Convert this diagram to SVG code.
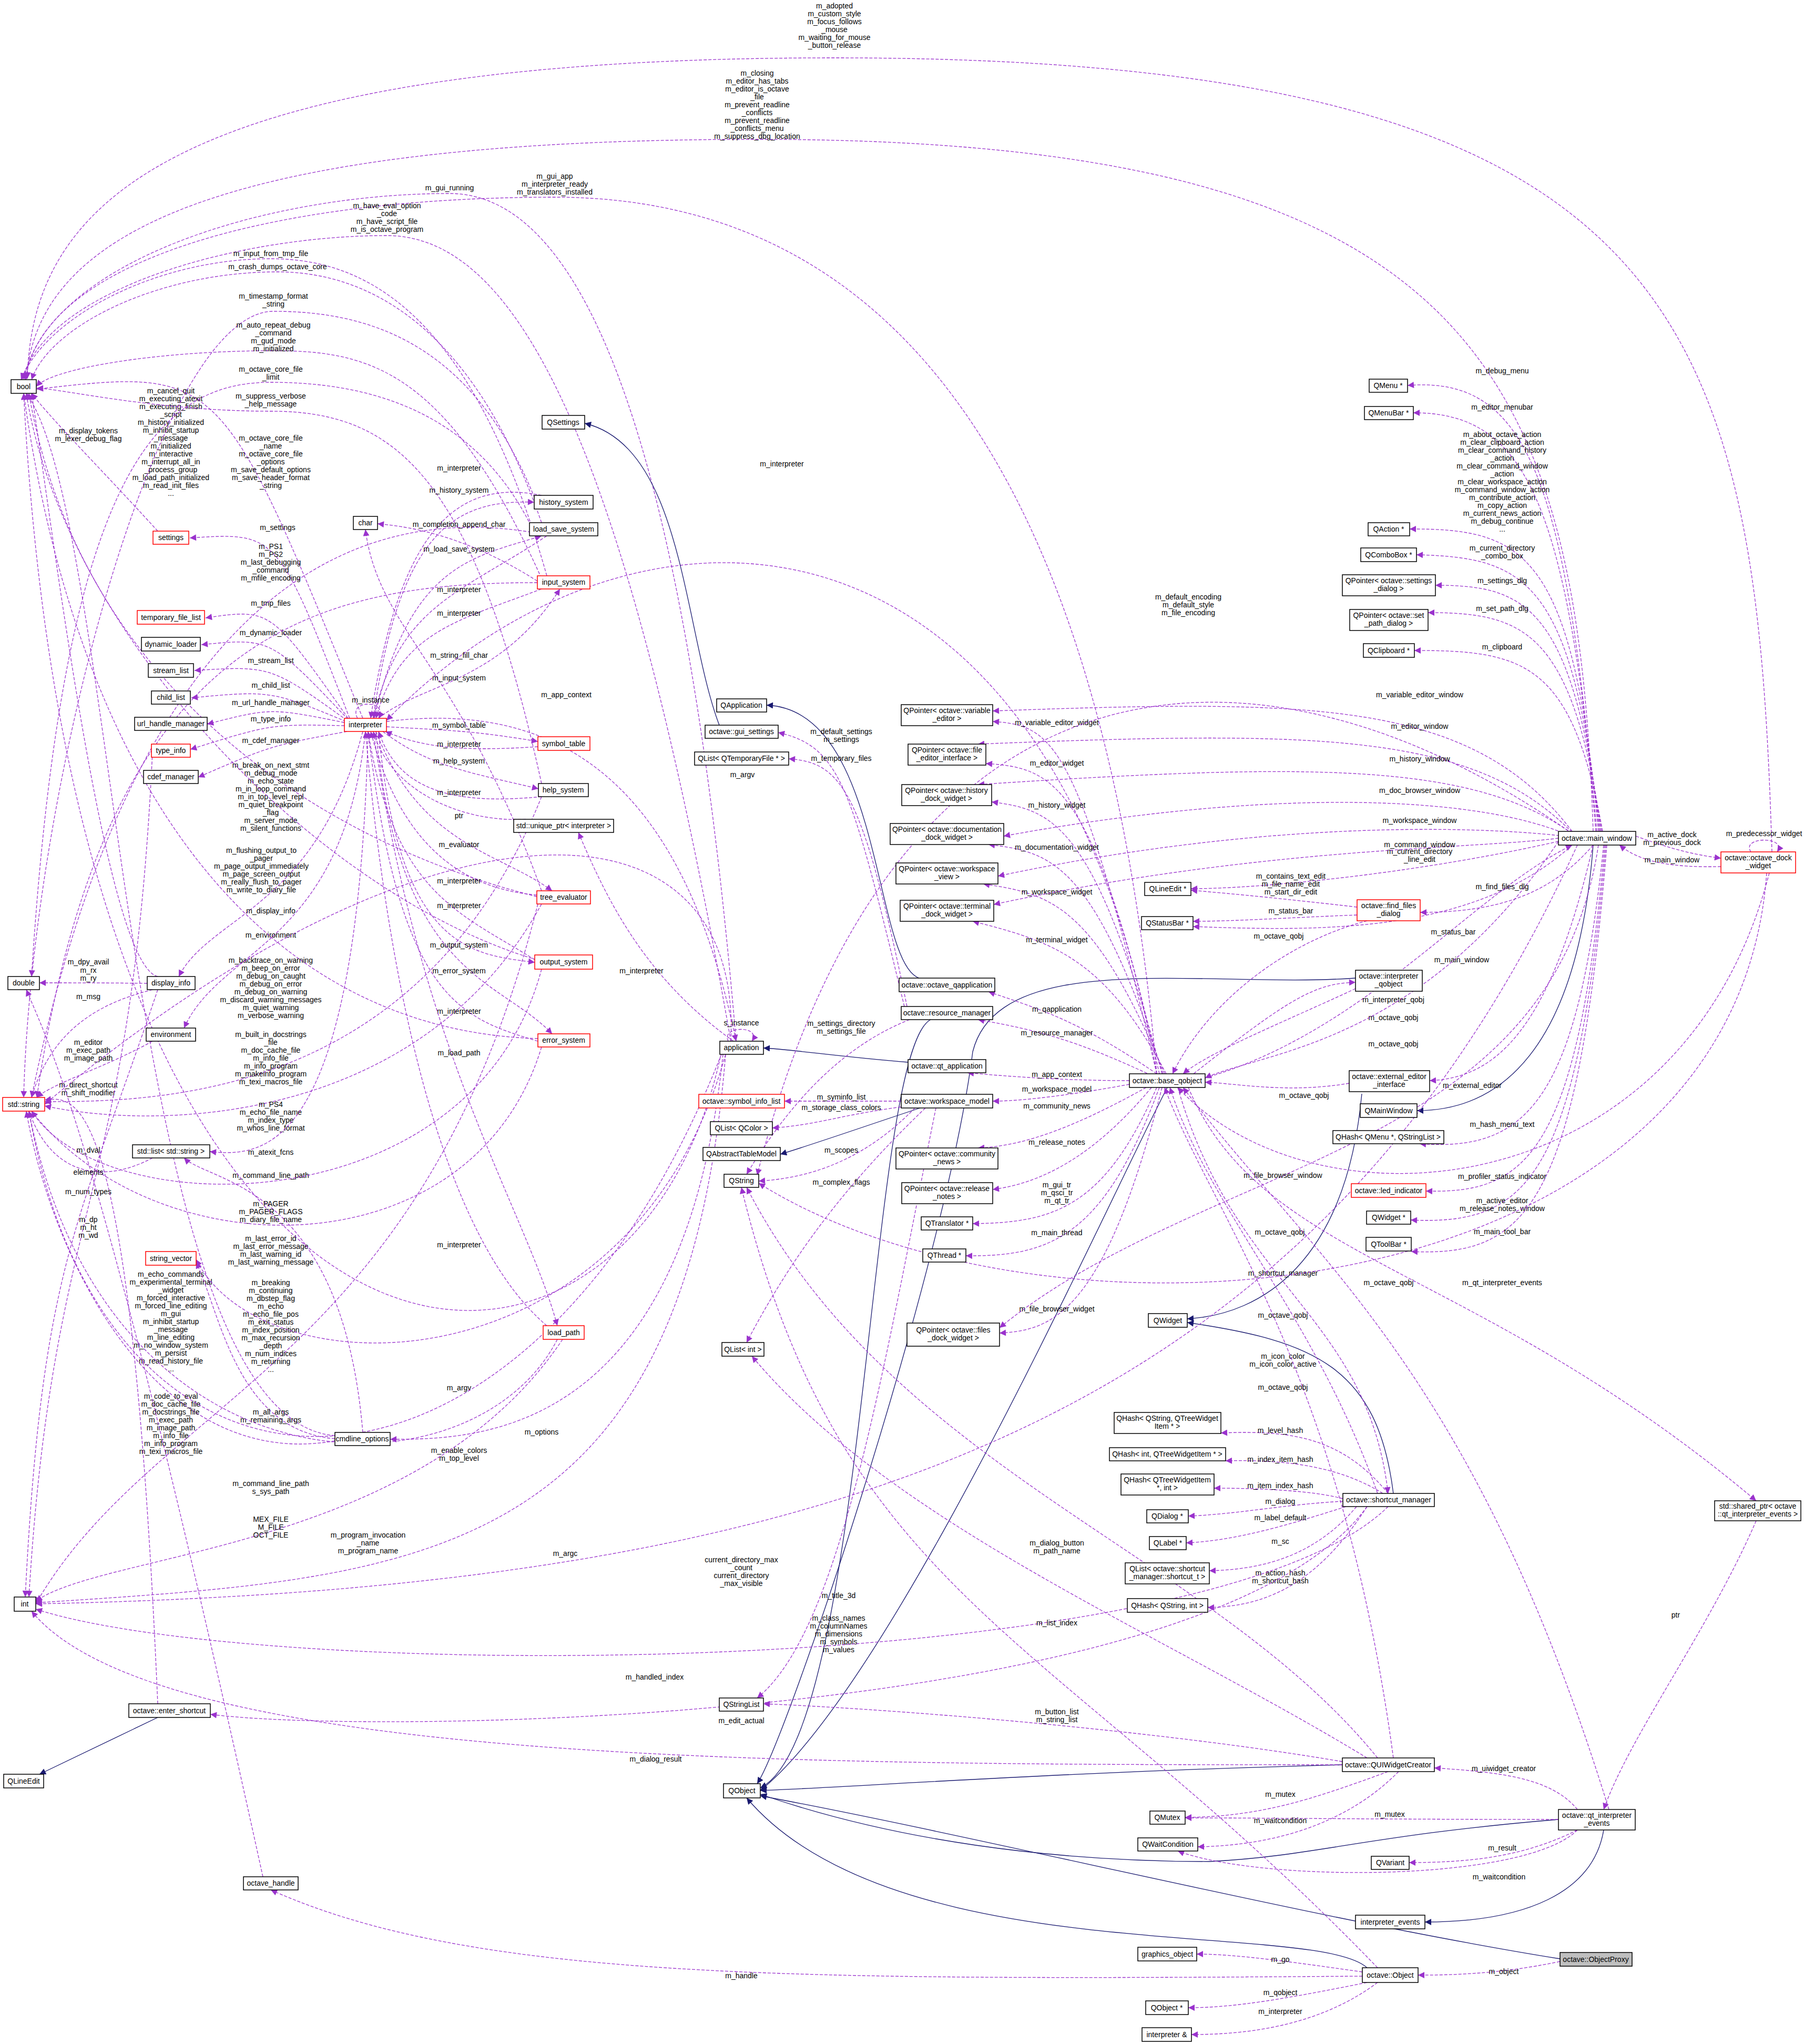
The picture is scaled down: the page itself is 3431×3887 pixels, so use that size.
<svg xmlns="http://www.w3.org/2000/svg" width="3431" height="3887" viewBox="0 0 3431 3887">
<style>
text{font-family:"Liberation Sans",Arial,sans-serif;font-size:14px;fill:#000}
.n rect{fill:#fff;stroke:#000;stroke-width:1.5}
.n.r rect{stroke:#f00}
.n.g rect{fill:#bfbfbf}
.n text{text-anchor:middle}
.e path{fill:none;stroke:#9a32cd;stroke-width:1.3;stroke-dasharray:6,3;marker-end:url(#ap)}
.e path.i{stroke:#191970;stroke-dasharray:none;marker-end:url(#ab)}
.e text{text-anchor:middle}
</style>
<defs>
<marker id="ap" viewBox="0 0 10 10" refX="10" refY="5" markerWidth="14" markerHeight="12" markerUnits="userSpaceOnUse" orient="auto"><path d="M0,0L10,5L0,10z" fill="#9a32cd"/></marker>
<marker id="ab" viewBox="0 0 10 10" refX="10" refY="5" markerWidth="14" markerHeight="12" markerUnits="userSpaceOnUse" orient="auto"><path d="M0,0L10,5L0,10z" fill="#191970"/></marker>
</defs>
<rect width="3431" height="3887" fill="#fff"/>
<g id="edges" class="e">
<path d="M665,1366C528,1012 528,1012 361,1023"/><text x="528" y="1008">m_settings</text>
<path d="M662,1366C515,1157 515,1157 391,1175"/><text x="515" y="1152">m_tmp_files</text>
<path d="M662,1368C515,1213 515,1213 383,1226"/><text x="515" y="1208">m_dynamic_loader</text>
<path d="M660,1370C515,1266 515,1266 370,1275"/><text x="515" y="1261">m_stream_list</text>
<path d="M658,1372C515,1313 515,1313 364,1327"/><text x="515" y="1308">m_child_list</text>
<path d="M655,1374C515,1346 515,1346 394,1377"/><text x="515" y="1341">m_url_handle_manager</text>
<path d="M655,1380C515,1377 515,1377 362,1425"/><text x="515" y="1372">m_type_info</text>
<path d="M660,1391C515,1418 515,1418 377,1478"/><text x="515" y="1413">m_cdef_manager</text>
<path d="M690,1366C420,700 420,700 70,740"/><text x="325" y="748">m_cancel_quit<tspan x="325" dy="15">m_executing_atexit</tspan><tspan x="325" dy="15">m_executing_finish</tspan><tspan x="325" dy="15">_script</tspan><tspan x="325" dy="15">m_history_initialized</tspan><tspan x="325" dy="15">m_inhibit_startup</tspan><tspan x="325" dy="15">_message</tspan><tspan x="325" dy="15">m_initialized</tspan><tspan x="325" dy="15">m_interactive</tspan><tspan x="325" dy="15">m_interrupt_all_in</tspan><tspan x="325" dy="15">_process_group</tspan><tspan x="325" dy="15">m_load_path_initialized</tspan><tspan x="325" dy="15">m_read_init_files</tspan><tspan x="325" dy="15">...</tspan></text>
<path d="M3370,1620C3340,600 3200,110 1587,110C300,110 60,400 52,720"/><text x="1587" y="16">m_adopted<tspan x="1587" dy="15">m_custom_style</tspan><tspan x="1587" dy="15">m_focus_follows</tspan><tspan x="1587" dy="15">_mouse</tspan><tspan x="1587" dy="15">m_waiting_for_mouse</tspan><tspan x="1587" dy="15">_button_release</tspan></text>
<path d="M3030,1581C3000,700 2800,265 1440,265C400,265 70,450 50,722"/><text x="1440" y="144">m_closing<tspan x="1440" dy="15">m_editor_has_tabs</tspan><tspan x="1440" dy="15">m_editor_is_octave</tspan><tspan x="1440" dy="15">_file</tspan><tspan x="1440" dy="15">m_prevent_readline</tspan><tspan x="1440" dy="15">_conflicts</tspan><tspan x="1440" dy="15">m_prevent_readline</tspan><tspan x="1440" dy="15">_conflicts_menu</tspan><tspan x="1440" dy="15">m_suppress_dbg_location</tspan></text>
<path d="M2200,2042C2100,900 1700,375 1055,375C500,375 80,500 48,722"/><text x="1055" y="340">m_gui_app<tspan x="1055" dy="15">m_interpreter_ready</tspan><tspan x="1055" dy="15">m_translators_installed</tspan></text>
<path d="M1400,1980C1300,800 1100,368 855,368C500,368 90,500 45,722"/><text x="855" y="362">m_gui_running</text>
<path d="M1390,1980C1200,900 1000,448 736,448C450,448 90,550 42,722"/><text x="736" y="396">m_have_eval_option<tspan x="736" dy="15">_code</tspan><tspan x="736" dy="15">m_have_script_file</tspan><tspan x="736" dy="15">m_is_octave_program</tspan></text>
<path d="M1040,1095C900,600 700,492 515,492C300,492 90,600 40,722"/><text x="515" y="487">m_input_from_tmp_file</text>
<path d="M1030,994C900,620 700,517 528,517C300,517 95,620 60,722"/><text x="528" y="512">m_crash_dumps_octave_core</text>
<path d="M1020,955C900,650 700,592 520,592C300,592 60,1500 45,2087"/><text x="520" y="568">m_timestamp_format<tspan x="520" dy="15">_string</tspan></text>
<path d="M1030,1100C850,700 700,667 520,667C300,667 100,700 69,735"/><text x="520" y="623">m_auto_repeat_debug<tspan x="520" dy="15">_command</tspan><tspan x="520" dy="15">m_gud_mode</tspan><tspan x="520" dy="15">m_initialized</tspan></text>
<path d="M1010,1000C900,780 700,727 515,727C300,727 120,900 60,1857"/><text x="515" y="707">m_octave_core_file<tspan x="515" dy="15">_limit</tspan></text>
<path d="M1030,1490C900,900 750,782 515,782C300,782 120,740 70,738"/><text x="515" y="758">m_suppress_verbose<tspan x="515" dy="15">_help_message</tspan></text>
<path d="M1010,1012C500,930 200,1400 60,2087"/><text x="515" y="838">m_octave_core_file<tspan x="515" dy="15">_name</tspan><tspan x="515" dy="15">m_octave_core_file</tspan><tspan x="515" dy="15">_options</tspan><tspan x="515" dy="15">m_save_default_options</tspan><tspan x="515" dy="15">m_save_header_format</tspan><tspan x="515" dy="15">_string</tspan></text>
<path d="M1022,1108C600,1108 200,1200 70,2087"/><text x="515" y="1044">m_PS1<tspan x="515" dy="15">m_PS2</tspan><tspan x="515" dy="15">m_last_debugging</tspan><tspan x="515" dy="15">_command</tspan><tspan x="515" dy="15">m_mfile_encoding</tspan></text>
<path d="M300,1010C200,900 100,800 60,748"/><text x="168" y="824">m_display_tokens<tspan x="168" dy="15">m_lexer_debug_flag</tspan></text>
<path d="M1021,1705C600,1600 150,1300 55,748"/><text x="515" y="1460">m_break_on_next_stmt<tspan x="515" dy="15">m_debug_mode</tspan><tspan x="515" dy="15">m_echo_state</tspan><tspan x="515" dy="15">m_in_loop_command</tspan><tspan x="515" dy="15">m_in_top_level_repl</tspan><tspan x="515" dy="15">m_quiet_breakpoint</tspan><tspan x="515" dy="15">_flag</tspan><tspan x="515" dy="15">m_server_mode</tspan><tspan x="515" dy="15">m_silent_functions</tspan></text>
<path d="M1020,1825C600,1700 120,1200 50,748"/><text x="497" y="1622">m_flushing_output_to<tspan x="497" dy="15">_pager</tspan><tspan x="497" dy="15">m_page_output_immediately</tspan><tspan x="497" dy="15">m_page_screen_output</tspan><tspan x="497" dy="15">m_really_flush_to_pager</tspan><tspan x="497" dy="15">m_write_to_diary_file</tspan></text>
<path d="M690,1391C600,1730 400,1740 340,1857"/><text x="515" y="1737">m_display_info</text>
<path d="M695,1391C650,1800 420,1800 350,1955"/><text x="515" y="1783">m_environment</text>
<path d="M1023,1975C500,1960 150,1500 45,748"/><text x="515" y="1831">m_backtrace_on_warning<tspan x="515" dy="15">m_beep_on_error</tspan><tspan x="515" dy="15">m_debug_on_caught</tspan><tspan x="515" dy="15">m_debug_on_error</tspan><tspan x="515" dy="15">m_debug_on_warning</tspan><tspan x="515" dy="15">m_discard_warning_messages</tspan><tspan x="515" dy="15">m_quiet_warning</tspan><tspan x="515" dy="15">m_verbose_warning</tspan></text>
<path d="M1030,1515C800,2090 300,2095 85,2095"/><text x="515" y="1972">m_built_in_docstrings<tspan x="515" dy="15">_file</tspan><tspan x="515" dy="15">m_doc_cache_file</tspan><tspan x="515" dy="15">m_info_file</tspan><tspan x="515" dy="15">m_info_program</tspan><tspan x="515" dy="15">m_makeinfo_program</tspan><tspan x="515" dy="15">m_texi_macros_file</tspan></text>
<path d="M1030,1719C800,2140 300,2150 85,2103"/><text x="515" y="2105">m_PS4<tspan x="515" dy="15">m_echo_file_name</tspan><tspan x="515" dy="15">m_index_type</tspan><tspan x="515" dy="15">m_whos_line_format</tspan></text>
<path d="M700,1391C680,2200 500,2200 399,2190"/><text x="515" y="2196">m_atexit_fcns</text>
<path d="M690,2724C650,2250 400,2250 350,2202"/><text x="515" y="2240">m_command_line_path</text>
<path d="M1030,1843C900,2330 200,2330 60,2113"/><text x="515" y="2294">m_PAGER<tspan x="515" dy="15">m_PAGER_FLAGS</tspan><tspan x="515" dy="15">m_diary_file_name</tspan></text>
<path d="M1030,1991C900,2420 300,2420 60,2113"/><text x="515" y="2360">m_last_error_id<tspan x="515" dy="15">m_last_error_message</tspan><tspan x="515" dy="15">m_last_warning_id</tspan><tspan x="515" dy="15">m_last_warning_message</tspan></text>
<path d="M1023,1719C800,2600 300,2650 68,3050"/><text x="515" y="2444">m_breaking<tspan x="515" dy="15">m_continuing</tspan><tspan x="515" dy="15">m_dbstep_flag</tspan><tspan x="515" dy="15">m_echo</tspan><tspan x="515" dy="15">m_echo_file_pos</tspan><tspan x="515" dy="15">m_exit_status</tspan><tspan x="515" dy="15">m_index_position</tspan><tspan x="515" dy="15">m_max_recursion</tspan><tspan x="515" dy="15">_depth</tspan><tspan x="515" dy="15">m_num_indices</tspan><tspan x="515" dy="15">m_returning</tspan><tspan x="515" dy="15">...</tspan></text>
<path d="M637,2730C230,2700 230,1000 50,748"/><text x="325" y="2428">m_echo_commands<tspan x="325" dy="15">m_experimental_terminal</tspan><tspan x="325" dy="15">_widget</tspan><tspan x="325" dy="15">m_forced_interactive</tspan><tspan x="325" dy="15">m_forced_line_editing</tspan><tspan x="325" dy="15">m_gui</tspan><tspan x="325" dy="15">m_inhibit_startup</tspan><tspan x="325" dy="15">_message</tspan><tspan x="325" dy="15">m_line_editing</tspan><tspan x="325" dy="15">m_no_window_system</tspan><tspan x="325" dy="15">m_persist</tspan><tspan x="325" dy="15">m_read_history_file</tspan><tspan x="325" dy="15">...</tspan></text>
<path d="M637,2740C300,2800 100,2400 50,2113"/><text x="325" y="2660">m_code_to_eval<tspan x="325" dy="15">m_doc_cache_file</tspan><tspan x="325" dy="15">m_docstrings_file</tspan><tspan x="325" dy="15">m_exec_path</tspan><tspan x="325" dy="15">m_image_path</tspan><tspan x="325" dy="15">m_info_file</tspan><tspan x="325" dy="15">m_info_program</tspan><tspan x="325" dy="15">m_texi_macros_file</tspan></text>
<path d="M637,2736C450,2720 420,2500 373,2400"/><text x="515" y="2690">m_all_args<tspan x="515" dy="15">m_remaining_args</tspan></text>
<path d="M1380,2005C1200,2650 500,2650 373,2395"/><text x="873" y="2644">m_argv</text>
<path d="M1375,2005C1300,2740 900,2737 742,2737"/><text x="1030" y="2728">m_options</text>
<path d="M1370,2010C1200,2790 150,2790 45,748"/><text x="873" y="2763">m_enable_colors<tspan x="873" dy="15">m_top_level</tspan></text>
<path d="M1060,2547C900,2860 200,2860 55,2113"/><text x="515" y="2826">m_command_line_path<tspan x="515" dy="15">s_sys_path</tspan></text>
<path d="M1070,2547C800,2950 200,2950 68,3045"/><text x="515" y="2894">MEX_FILE<tspan x="515" dy="15">M_FILE</tspan><tspan x="515" dy="15">OCT_FILE</tspan></text>
<path d="M1372,2005C1000,2950 200,2960 55,2113"/><text x="700" y="2924">m_program_invocation<tspan x="700" dy="15">_name</tspan><tspan x="700" dy="15">m_program_name</tspan></text>
<path d="M1380,2005C1300,2980 800,3000 68,3048"/><text x="1075" y="2959">m_argc</text>
<path d="M280,1870C200,1869 150,1869 75,1869"/><text x="168" y="1850">m_rx<tspan x="168" dy="15">m_ry</tspan></text>
<path d="M290,1882C200,1905 100,1950 60,2087"/><text x="168" y="1900">m_msg</text>
<path d="M300,1857C200,1834 100,1000 60,748"/><text x="168" y="1834">m_dpy_avail</text>
<path d="M290,1980C200,2030 100,2060 70,2087"/><text x="168" y="1987">m_editor<tspan x="168" dy="15">m_exec_path</tspan><tspan x="168" dy="15">m_image_path</tspan></text>
<path d="M300,3240C250,2080 150,2082 85,2092"/><text x="168" y="2068">m_direct_shortcut<tspan x="168" dy="15">m_shift_modifier</tspan></text>
<path d="M500,3569C200,2200 100,2000 50,1882"/><text x="168" y="2192">m_dval</text>
<path d="M290,2202C200,2250 100,2240 55,2113"/><text x="168" y="2234">elements</text>
<path d="M290,1430C250,2280 100,2280 55,3037"/><text x="168" y="2271">m_num_types</text>
<path d="M300,1882C150,2330 80,2400 48,3037"/><text x="168" y="2324">m_dp<tspan x="168" dy="15">m_ht</tspan><tspan x="168" dy="15">m_wd</tspan></text>
<path d="M1030,942C873,910 760,1000 705,1366"/><text x="873" y="895">m_interpreter</text>
<path d="M710,1366C760,1000 873,950 1016,955"/><text x="873" y="937">m_history_system</text>
<path d="M1022,1105C873,1010 760,1000 718,996"/><text x="873" y="1002">m_completion_append_char</text>
<path d="M712,1366C780,1070 900,1060 1030,1019"/><text x="873" y="1049">m_load_save_system</text>
<path d="M1040,1019C873,1130 760,1150 710,1366"/><text x="873" y="1126">m_interpreter</text>
<path d="M1030,1120C873,1180 760,1200 715,1366"/><text x="873" y="1171">m_interpreter</text>
<path d="M1030,1694C873,1260 720,1200 695,1007"/><text x="873" y="1251">m_string_fill_char</text>
<path d="M720,1366C800,1300 950,1300 1065,1120"/><text x="873" y="1294">m_input_system</text>
<path d="M735,1382C873,1390 900,1390 1023,1410"/><text x="873" y="1384">m_symbol_table</text>
<path d="M1023,1420C873,1430 800,1420 733,1391"/><text x="873" y="1420">m_interpreter</text>
<path d="M728,1391C820,1460 900,1470 1024,1500"/><text x="873" y="1452">m_help_system</text>
<path d="M1030,1515C873,1530 760,1510 720,1391"/><text x="873" y="1512">m_interpreter</text>
<path d="M1000,1558C873,1565 740,1500 710,1391"/><text x="873" y="1556">ptr</text>
<path d="M715,1391C800,1610 950,1620 1050,1694"/><text x="873" y="1611">m_evaluator</text>
<path d="M1021,1702C873,1690 760,1600 705,1391"/><text x="873" y="1680">m_interpreter</text>
<path d="M1017,1825C873,1735 750,1700 700,1391"/><text x="873" y="1727">m_interpreter</text>
<path d="M720,1391C760,1810 900,1815 1017,1830"/><text x="873" y="1802">m_output_system</text>
<path d="M715,1391C760,1860 950,1860 1050,1966"/><text x="873" y="1851">m_error_system</text>
<path d="M1023,1980C873,1935 760,1900 700,1391"/><text x="873" y="1928">m_interpreter</text>
<path d="M710,1391C800,2010 1000,2300 1060,2521"/><text x="873" y="2007">m_load_path</text>
<path d="M1040,2521C873,2380 750,2000 695,1391"/><text x="873" y="2372">m_interpreter</text>
<path d="M680,1366C660,1330 740,1330 720,1366"/><text x="705" y="1336">m_instance</text>
<path d="M735,1372C1077,1330 1300,1500 1400,1980"/><text x="1077" y="1326">m_app_context</text>
<path d="M1395,1980C1220,1855 1150,1700 1100,1583"/><text x="1220" y="1851">m_interpreter</text>
<path d="M2200,2042C2000,900 1200,890 735,1370"/><text x="1487" y="887">m_interpreter</text>
<path d="M1390,1980C1412,1480 800,1500 85,2100"/><text x="1412" y="1478">m_argv</text>
<path d="M1385,1980C1370,1950 1450,1950 1430,1980"/><text x="1410" y="1950">s_instance</text>
<path class="i" d="M1368,1379C1300,1200 1300,850 1112,805"/>
<path class="i" d="M1748,1860C1660,1830 1680,1350 1458,1341"/>
<path class="i" d="M1727,2020C1600,2010 1500,1995 1452,1993"/>
<path class="i" d="M1770,1939C1650,2000 1650,3300 1446,3400"/>
<path class="i" d="M1750,2107C1650,2140 1550,2175 1484,2195"/>
<path class="i" d="M2220,2068C2100,2300 1700,3200 1446,3405"/>
<path class="i" d="M3030,1607C3000,2000 2850,2112 2695,2112"/>
<path class="i" d="M2578,1860C2300,1880 1900,1800 1850,2000C1800,2400 1500,3300 1440,3392"/>
<path class="i" d="M2590,2080C2560,2400 2400,2500 2258,2508"/>
<path class="i" d="M2650,2840C2620,2600 2500,2550 2258,2515"/>
<path class="i" d="M2553,3356C2000,3370 1600,3400 1446,3405"/>
<path class="i" d="M2964,3460C2600,3490 2500,3530 2300,3540C2000,3540 1700,3500 1446,3412"/>
<path class="i" d="M3050,3480C3030,3600 2900,3655 2710,3655"/>
<path class="i" d="M2967,3725C2500,3650 1900,3500 1446,3415"/>
<path class="i" d="M2600,3742C2500,3650 1700,3750 1420,3419"/>
<path class="i" d="M300,3266L75,3374"/>
<path d="M1720,1914C1620,1500 1600,1420 1480,1393"/><text x="1600" y="1396">m_default_settings<tspan x="1600" dy="15">m_settings</tspan></text>
<path d="M1725,1914C1640,1500 1600,1450 1500,1443"/><text x="1600" y="1447">m_temporary_files</text>
<path d="M1730,1939C1600,1990 1500,2100 1420,2233"/><text x="1600" y="1951">m_settings_directory<tspan x="1600" dy="15">m_settings_file</tspan></text>
<path d="M1714,2094C1600,2094 1550,2094 1492,2094"/><text x="1600" y="2091">m_syminfo_list</text>
<path d="M1714,2105C1600,2120 1550,2140 1469,2145"/><text x="1600" y="2111">m_storage_class_colors</text>
<path d="M1740,2107C1650,2200 1550,2240 1443,2246"/><text x="1600" y="2192">m_scopes</text>
<path d="M1760,2107C1600,2260 1500,2400 1420,2553"/><text x="1600" y="2253">m_complex_flags</text>
<path d="M1780,2107C1680,2600 1600,3100 1440,3229"/><text x="1595" y="3082">m_class_names<tspan x="1595" dy="15">m_columnNames</tspan><tspan x="1595" dy="15">m_dimensions</tspan><tspan x="1595" dy="15">m_symbols</tspan><tspan x="1595" dy="15">m_values</tspan></text>
<path d="M2620,3742C2000,3100 1600,3040 1410,2258"/><text x="1595" y="3039">m_title_3d</text>
<path d="M2200,2042C2050,1400 2000,1380 1888,1372"/><text x="2010" y="1379">m_variable_editor_widget</text>
<path d="M2205,2042C2080,1480 2000,1460 1875,1452"/><text x="2010" y="1456">m_editor_widget</text>
<path d="M2210,2042C2080,1560 2000,1540 1886,1525"/><text x="2010" y="1536">m_history_widget</text>
<path d="M2212,2042C2080,1640 2000,1620 1880,1606"/><text x="2010" y="1616">m_documentation_widget</text>
<path d="M2215,2042C2080,1720 2000,1700 1870,1681"/><text x="2010" y="1701">m_workspace_widget</text>
<path d="M2218,2042C2100,1820 2000,1790 1850,1752"/><text x="2010" y="1792">m_terminal_widget</text>
<path d="M2200,2042C2050,1940 1980,1920 1880,1886"/><text x="2010" y="1924">m_qapplication</text>
<path d="M2190,2045C2050,1980 1980,1960 1860,1939"/><text x="2010" y="1969">m_resource_manager</text>
<path d="M2148,2055C2050,2055 1950,2050 1840,2040"/><text x="2010" y="2048">m_app_context</text>
<path d="M2148,2062C2050,2080 1950,2094 1888,2094"/><text x="2010" y="2076">m_workspace_model</text>
<path d="M2180,2068C2050,2140 1950,2180 1860,2183"/><text x="2010" y="2108">m_community_news</text>
<path d="M2190,2068C2080,2200 1980,2250 1888,2262"/><text x="2010" y="2177">m_release_notes</text>
<path d="M2200,2068C2100,2300 2000,2325 1850,2327"/><text x="2010" y="2258">m_gui_tr<tspan x="2010" dy="15">m_qsci_tr</tspan><tspan x="2010" dy="15">m_qt_tr</tspan></text>
<path d="M2205,2068C2100,2350 2000,2390 1837,2388"/><text x="2010" y="2349">m_main_thread</text>
<path d="M2210,2068C2100,2500 2000,2530 1901,2535"/><text x="2010" y="2494">m_file_browser_widget</text>
<path d="M2292,2050C2600,1960 2800,1700 2990,1607"/><text x="2780" y="1830">m_main_window</text>
<path d="M2270,2042C2450,1900 2500,1870 2578,1868"/><text x="2650" y="1906">m_interpreter_qobj</text>
<path d="M2578,1880C2450,1940 2300,2000 2250,2042"/><text x="2650" y="1940">m_octave_qobj</text>
<path d="M2964,1600C2700,1990 2400,2000 2292,2050"/><text x="2650" y="1990">m_octave_qobj</text>
<path d="M2566,2060C2450,2080 2350,2060 2292,2058"/><text x="2480" y="2088">m_octave_qobj</text>
<path d="M2600,1751C2450,1790 2300,1900 2230,2042"/><text x="2432" y="1785">m_octave_qobj</text>
<path d="M2964,1600C2700,1660 2400,1690 2265,1690"/><text x="2700" y="1624">m_current_directory<tspan x="2700" dy="15">_line_edit</tspan></text>
<path d="M2581,1725C2450,1710 2350,1700 2265,1693"/><text x="2455" y="1671">m_contains_text_edit<tspan x="2455" dy="15">m_file_name_edit</tspan><tspan x="2455" dy="15">m_start_dir_edit</tspan></text>
<path d="M2581,1740C2450,1745 2350,1752 2269,1752"/><text x="2455" y="1737">m_status_bar</text>
<path d="M2990,1607C2800,1780 2500,1770 2269,1762"/><text x="2764" y="1777">m_status_bar</text>
<path d="M3030,1607C2950,1700 2850,1735 2701,1735"/><text x="2857" y="1691">m_find_files_dlg</text>
<path d="M3035,1581C2980,900 2900,715 2677,733"/><text x="2857" y="710">m_debug_menu</text>
<path d="M3037,1581C2980,950 2900,785 2688,785"/><text x="2857" y="779">m_editor_menubar</text>
<path d="M3040,1581C2990,1050 2900,1005 2681,1006"/><text x="2857" y="831">m_about_octave_action<tspan x="2857" dy="15">m_clear_clipboard_action</tspan><tspan x="2857" dy="15">m_clear_command_history</tspan><tspan x="2857" dy="15">_action</tspan><tspan x="2857" dy="15">m_clear_command_window</tspan><tspan x="2857" dy="15">_action</tspan><tspan x="2857" dy="15">m_clear_workspace_action</tspan><tspan x="2857" dy="15">m_command_window_action</tspan><tspan x="2857" dy="15">m_contribute_action</tspan><tspan x="2857" dy="15">m_copy_action</tspan><tspan x="2857" dy="15">m_current_news_action</tspan><tspan x="2857" dy="15">m_debug_continue</tspan><tspan x="2857" dy="15">...</tspan></text>
<path d="M3042,1581C2990,1100 2900,1060 2694,1055"/><text x="2857" y="1047">m_current_directory<tspan x="2857" dy="15">_combo_box</tspan></text>
<path d="M3044,1581C2990,1150 2900,1113 2730,1113"/><text x="2857" y="1109">m_settings_dlg</text>
<path d="M3046,1581C2990,1200 2900,1165 2716,1165"/><text x="2857" y="1162">m_set_path_dlg</text>
<path d="M3048,1581C2990,1260 2900,1237 2690,1237"/><text x="2857" y="1235">m_clipboard</text>
<path d="M2990,1585C2400,1170 1700,1200 1440,2235"/><text x="2260" y="1140">m_default_encoding<tspan x="2260" dy="15">m_default_style</tspan><tspan x="2260" dy="15">m_file_encoding</tspan></text>
<path d="M2990,1581C2800,1330 2500,1330 1888,1352"/><text x="2700" y="1326">m_variable_editor_window</text>
<path d="M2990,1583C2800,1390 2500,1390 1860,1415"/><text x="2700" y="1386">m_editor_window</text>
<path d="M2990,1585C2800,1450 2500,1450 1860,1492"/><text x="2700" y="1448">m_history_window</text>
<path d="M2980,1587C2800,1510 2400,1500 1909,1590"/><text x="2700" y="1508">m_doc_browser_window</text>
<path d="M2975,1590C2800,1570 2400,1560 1898,1666"/><text x="2700" y="1565">m_workspace_window</text>
<path d="M2964,1594C2800,1615 2400,1610 1890,1720"/><text x="2700" y="1611">m_command_window</text>
<path d="M3111,1590C3180,1615 3220,1625 3273,1632"/><text x="3180" y="1592">m_active_dock<tspan x="3180" dy="15">m_previous_dock</tspan></text>
<path d="M3273,1648C3180,1650 3120,1640 3080,1607"/><text x="3180" y="1640">m_main_window</text>
<path d="M3330,1620C3310,1590 3400,1590 3380,1620"/><text x="3355" y="1590">m_predecessor_widget</text>
<path d="M3050,1607C3000,2100 2900,2190 2700,2175"/><text x="2857" y="2143">m_hash_menu_text</text>
<path d="M3052,1607C3000,2200 2900,2270 2712,2265"/><text x="2857" y="2242">m_profiler_status_indicator</text>
<path d="M3054,1607C3000,2250 2900,2330 2683,2320"/><text x="2857" y="2288">m_active_editor<tspan x="2857" dy="15">m_release_notes_window</tspan></text>
<path d="M3056,1607C3000,2300 2900,2390 2684,2380"/><text x="2857" y="2347">m_main_tool_bar</text>
<path d="M3040,1607C2950,2200 2300,2200 1901,2525"/><text x="2440" y="2240">m_file_browser_window</text>
<path d="M3030,1607C2950,1950 2850,2050 2719,2055"/><text x="2800" y="2069">m_external_editor</text>
<path d="M2260,2068C2400,2400 2800,2400 3340,2854"/><text x="2857" y="2444">m_qt_interpreter_events</text>
<path d="M2240,2068C2350,2450 2600,2500 2640,2840"/><text x="2440" y="2426">m_shortcut_manager</text>
<path d="M2620,2840C2500,2500 2300,2300 2225,2068"/><text x="2440" y="2506">m_octave_qobj</text>
<path d="M3365,1660C3200,2300 2500,2350 2240,2068"/><text x="2434" y="2348">m_octave_qobj</text>
<path d="M3060,3441C2800,2600 2500,2400 2250,2068"/><text x="2641" y="2444">m_octave_qobj</text>
<path d="M3360,1660C3300,2500 2000,2600 1443,2250"/><text x="2440" y="2584">m_icon_color<tspan x="2440" dy="15">m_icon_color_active</tspan></text>
<path d="M2650,3343C2550,2600 2300,2300 2215,2068"/><text x="2440" y="2643">m_octave_qobj</text>
<path d="M2640,2840C2550,2730 2450,2720 2322,2725"/><text x="2435" y="2725">m_level_hash</text>
<path d="M2630,2840C2550,2790 2450,2775 2331,2778"/><text x="2435" y="2780">m_index_item_hash</text>
<path d="M2554,2850C2500,2835 2400,2830 2309,2830"/><text x="2435" y="2830">m_item_index_hash</text>
<path d="M2554,2855C2450,2860 2350,2880 2260,2883"/><text x="2435" y="2860">m_dialog</text>
<path d="M2560,2865C2450,2900 2350,2930 2256,2934"/><text x="2435" y="2891">m_label_default</text>
<path d="M2580,2865C2500,2960 2400,2985 2300,2987"/><text x="2435" y="2936">m_sc</text>
<path d="M2600,2865C2500,3020 2400,3055 2297,3057"/><text x="2435" y="2996">m_action_hash<tspan x="2435" dy="15">m_shortcut_hash</tspan></text>
<path d="M2600,2865C2300,3280 700,3300 400,3260"/><text x="1410" y="3277">m_edit_actual</text>
<path d="M2640,2865C2300,3200 500,3200 68,3060"/><text x="1245" y="3194">m_handled_index</text>
<path d="M2553,3356C1500,3356 300,3356 60,3064"/><text x="1247" y="3350">m_dialog_result</text>
<path d="M2553,3350C2200,3290 1700,3250 1452,3240"/><text x="2010" y="3260">m_button_list<tspan x="2010" dy="15">m_string_list</tspan></text>
<path d="M2620,3343C2300,2950 1700,2800 1420,2258"/><text x="2010" y="2939">m_dialog_button<tspan x="2010" dy="15">m_path_name</tspan></text>
<path d="M2600,3343C2200,3100 1700,2900 1430,2579"/><text x="2010" y="3091">m_list_index</text>
<path d="M3000,1607C2500,2700 1600,3020 68,3050"/><text x="1410" y="2971">current_directory_max<tspan x="1410" dy="15">_count</tspan><tspan x="1410" dy="15">current_directory</tspan><tspan x="1410" dy="15">_max_visible</tspan></text>
<path d="M3000,3441C2950,3380 2850,3370 2728,3362"/><text x="2860" y="3368">m_uiwidget_creator</text>
<path d="M2640,3369C2500,3420 2400,3455 2254,3456"/><text x="2435" y="3417">m_mutex</text>
<path d="M2964,3460C2650,3460 2400,3457 2254,3457"/><text x="2643" y="3455">m_mutex</text>
<path d="M2660,3369C2550,3480 2400,3510 2278,3512"/><text x="2435" y="3467">m_waitcondition</text>
<path d="M3000,3480C2900,3580 2400,3580 2240,3520"/><text x="2851" y="3574">m_waitcondition</text>
<path d="M3000,3480C2900,3530 2800,3542 2680,3542"/><text x="2857" y="3519">m_result</text>
<path d="M3340,2892C3250,3100 3100,3300 3050,3441"/><text x="3187" y="3076">ptr</text>
<path d="M2591,3750C2450,3730 2350,3716 2276,3716"/><text x="2435" y="3731">m_go</text>
<path d="M2600,3770C2450,3800 2350,3818 2260,3818"/><text x="2435" y="3794">m_qobject</text>
<path d="M2620,3770C2500,3860 2350,3869 2266,3869"/><text x="2435" y="3830">m_interpreter</text>
<path d="M2591,3758C1500,3766 900,3766 515,3594"/><text x="1410" y="3762">m_handle</text>
<path d="M2967,3730C2850,3755 2750,3756 2697,3756"/><text x="2860" y="3754">m_object</text>
</g>
<g id="bool" class="n"><rect x="21" y="722" width="48" height="26"/><text x="45" y="740">bool</text></g>
<g id="settings" class="n r"><rect x="291" y="1010" width="68" height="25"/><text x="325" y="1027">settings</text></g>
<g id="char" class="n"><rect x="672" y="982" width="46" height="25"/><text x="695" y="999">char</text></g>
<g id="history_system" class="n"><rect x="1016" y="942" width="112" height="26"/><text x="1072" y="960">history_system</text></g>
<g id="load_save_system" class="n"><rect x="1007" y="994" width="130" height="25"/><text x="1072" y="1011">load_save_system</text></g>
<g id="input_system" class="n r"><rect x="1022" y="1095" width="100" height="25"/><text x="1072" y="1112">input_system</text></g>
<g id="QSettings" class="n"><rect x="1031" y="790" width="81" height="26"/><text x="1071" y="808">QSettings</text></g>
<g id="temporary_file_list" class="n r"><rect x="261" y="1161" width="128" height="26"/><text x="325" y="1179">temporary_file_list</text></g>
<g id="dynamic_loader" class="n"><rect x="269" y="1212" width="112" height="26"/><text x="325" y="1230">dynamic_loader</text></g>
<g id="stream_list" class="n"><rect x="282" y="1262" width="86" height="26"/><text x="325" y="1280">stream_list</text></g>
<g id="child_list" class="n"><rect x="288" y="1314" width="74" height="25"/><text x="325" y="1331">child_list</text></g>
<g id="url_handle_manager" class="n"><rect x="256" y="1364" width="138" height="25"/><text x="325" y="1381">url_handle_manager</text></g>
<g id="type_info" class="n r"><rect x="288" y="1415" width="74" height="25"/><text x="325" y="1432">type_info</text></g>
<g id="cdef_manager" class="n"><rect x="273" y="1465" width="104" height="25"/><text x="325" y="1482">cdef_manager</text></g>
<g id="interpreter" class="n r"><rect x="655" y="1366" width="80" height="25"/><text x="695" y="1383">interpreter</text></g>
<g id="symbol_table" class="n r"><rect x="1023" y="1401" width="99" height="26"/><text x="1072" y="1419">symbol_table</text></g>
<g id="help_system" class="n"><rect x="1024" y="1490" width="95" height="25"/><text x="1071" y="1507">help_system</text></g>
<g id="unique_ptr" class="n"><rect x="977" y="1558" width="190" height="25"/><text x="1072" y="1575">std::unique_ptr&lt; interpreter &gt;</text></g>
<g id="tree_evaluator" class="n r"><rect x="1021" y="1694" width="102" height="25"/><text x="1072" y="1711">tree_evaluator</text></g>
<g id="double" class="n"><rect x="15" y="1857" width="60" height="25"/><text x="45" y="1874">double</text></g>
<g id="display_info" class="n"><rect x="280" y="1857" width="91" height="25"/><text x="325" y="1874">display_info</text></g>
<g id="environment" class="n"><rect x="278" y="1955" width="94" height="25"/><text x="325" y="1972">environment</text></g>
<g id="std_string" class="n r"><rect x="5" y="2087" width="80" height="26"/><text x="45" y="2105">std::string</text></g>
<g id="std_list" class="n"><rect x="252" y="2177" width="147" height="25"/><text x="325" y="2194">std::list&lt; std::string &gt;</text></g>
<g id="string_vector" class="n r"><rect x="277" y="2380" width="96" height="26"/><text x="325" y="2398">string_vector</text></g>
<g id="output_system" class="n r"><rect x="1017" y="1816" width="110" height="27"/><text x="1072" y="1834">output_system</text></g>
<g id="error_system" class="n r"><rect x="1023" y="1966" width="99" height="25"/><text x="1072" y="1983">error_system</text></g>
<g id="load_path" class="n r"><rect x="1033" y="2521" width="78" height="26"/><text x="1072" y="2539">load_path</text></g>
<g id="cmdline_options" class="n"><rect x="637" y="2724" width="105" height="25"/><text x="689" y="2741">cmdline_options</text></g>
<g id="int" class="n"><rect x="27" y="3037" width="41" height="27"/><text x="47" y="3055">int</text></g>
<g id="enter_shortcut" class="n"><rect x="245" y="3240" width="155" height="26"/><text x="322" y="3258">octave::enter_shortcut</text></g>
<g id="QLineEdit" class="n"><rect x="7" y="3374" width="76" height="26"/><text x="45" y="3392">QLineEdit</text></g>
<g id="QApplication" class="n"><rect x="1363" y="1329" width="95" height="25"/><text x="1410" y="1346">QApplication</text></g>
<g id="gui_settings" class="n"><rect x="1341" y="1379" width="139" height="25"/><text x="1410" y="1396">octave::gui_settings</text></g>
<g id="QList_QTemporaryFile" class="n"><rect x="1321" y="1430" width="179" height="25"/><text x="1410" y="1447">QList&lt; QTemporaryFile * &gt;</text></g>
<g id="application" class="n"><rect x="1369" y="1980" width="83" height="25"/><text x="1410" y="1997">application</text></g>
<g id="symbol_info_list" class="n r"><rect x="1329" y="2081" width="163" height="26"/><text x="1410" y="2099">octave::symbol_info_list</text></g>
<g id="QList_QColor" class="n"><rect x="1351" y="2133" width="118" height="25"/><text x="1410" y="2150">QList&lt; QColor &gt;</text></g>
<g id="QAbstractTableModel" class="n"><rect x="1337" y="2182" width="147" height="25"/><text x="1410" y="2199">QAbstractTableModel</text></g>
<g id="QString" class="n"><rect x="1377" y="2233" width="66" height="25"/><text x="1410" y="2250">QString</text></g>
<g id="QList_int" class="n"><rect x="1373" y="2553" width="80" height="26"/><text x="1413" y="2571">QList&lt; int &gt;</text></g>
<g id="QStringList" class="n"><rect x="1368" y="3229" width="84" height="25"/><text x="1410" y="3246">QStringList</text></g>
<g id="QObject" class="n"><rect x="1376" y="3392" width="70" height="27"/><text x="1411" y="3410">QObject</text></g>
<g id="octave_handle" class="n"><rect x="463" y="3569" width="104" height="25"/><text x="515" y="3586">octave_handle</text></g>
<g id="QP_variable_editor" class="n"><rect x="1714" y="1340" width="174" height="40"/><text x="1801" y="1356">QPointer&lt; octave::variable<tspan x="1801" dy="15">_editor &gt;</tspan></text></g>
<g id="QP_file_editor" class="n"><rect x="1727" y="1415" width="148" height="40"/><text x="1801" y="1431">QPointer&lt; octave::file<tspan x="1801" dy="15">_editor_interface &gt;</tspan></text></g>
<g id="QP_history" class="n"><rect x="1715" y="1492" width="171" height="40"/><text x="1800" y="1508">QPointer&lt; octave::history<tspan x="1800" dy="15">_dock_widget &gt;</tspan></text></g>
<g id="QP_documentation" class="n"><rect x="1693" y="1566" width="216" height="40"/><text x="1801" y="1582">QPointer&lt; octave::documentation<tspan x="1801" dy="15">_dock_widget &gt;</tspan></text></g>
<g id="QP_workspace_view" class="n"><rect x="1704" y="1641" width="194" height="40"/><text x="1801" y="1657">QPointer&lt; octave::workspace<tspan x="1801" dy="15">_view &gt;</tspan></text></g>
<g id="QP_terminal" class="n"><rect x="1712" y="1712" width="178" height="40"/><text x="1801" y="1728">QPointer&lt; octave::terminal<tspan x="1801" dy="15">_dock_widget &gt;</tspan></text></g>
<g id="octave_qapplication" class="n"><rect x="1710" y="1860" width="182" height="26"/><text x="1801" y="1878">octave::octave_qapplication</text></g>
<g id="resource_manager" class="n"><rect x="1714" y="1914" width="174" height="25"/><text x="1801" y="1931">octave::resource_manager</text></g>
<g id="qt_application" class="n"><rect x="1727" y="2015" width="148" height="25"/><text x="1801" y="2032">octave::qt_application</text></g>
<g id="workspace_model" class="n"><rect x="1714" y="2081" width="174" height="26"/><text x="1801" y="2099">octave::workspace_model</text></g>
<g id="QP_community_news" class="n"><rect x="1704" y="2183" width="194" height="40"/><text x="1801" y="2199">QPointer&lt; octave::community<tspan x="1801" dy="15">_news &gt;</tspan></text></g>
<g id="QP_release_notes" class="n"><rect x="1715" y="2249" width="173" height="40"/><text x="1801" y="2265">QPointer&lt; octave::release<tspan x="1801" dy="15">_notes &gt;</tspan></text></g>
<g id="QTranslator" class="n"><rect x="1752" y="2314" width="98" height="25"/><text x="1801" y="2331">QTranslator *</text></g>
<g id="QThread" class="n"><rect x="1755" y="2375" width="82" height="25"/><text x="1796" y="2392">QThread *</text></g>
<g id="QP_files_dock" class="n"><rect x="1725" y="2516" width="176" height="44"/><text x="1813" y="2534">QPointer&lt; octave::files<tspan x="1813" dy="15">_dock_widget &gt;</tspan></text></g>
<g id="base_qobject" class="n"><rect x="2148" y="2042" width="144" height="26"/><text x="2220" y="2060">octave::base_qobject</text></g>
<g id="QMenu" class="n"><rect x="2604" y="721" width="73" height="25"/><text x="2640" y="738">QMenu *</text></g>
<g id="QMenuBar" class="n"><rect x="2595" y="773" width="93" height="25"/><text x="2641" y="790">QMenuBar *</text></g>
<g id="QAction" class="n"><rect x="2602" y="994" width="79" height="25"/><text x="2641" y="1011">QAction *</text></g>
<g id="QComboBox" class="n"><rect x="2588" y="1042" width="106" height="26"/><text x="2641" y="1060">QComboBox *</text></g>
<g id="QP_settings_dialog" class="n"><rect x="2553" y="1093" width="177" height="40"/><text x="2641" y="1109">QPointer&lt; octave::settings<tspan x="2641" dy="15">_dialog &gt;</tspan></text></g>
<g id="QP_set_path_dialog" class="n"><rect x="2567" y="1159" width="149" height="40"/><text x="2641" y="1175">QPointer&lt; octave::set<tspan x="2641" dy="15">_path_dialog &gt;</tspan></text></g>
<g id="QClipboard" class="n"><rect x="2593" y="1224" width="97" height="26"/><text x="2641" y="1242">QClipboard *</text></g>
<g id="main_window" class="n"><rect x="2964" y="1581" width="147" height="26"/><text x="3037" y="1599">octave::main_window</text></g>
<g id="octave_dock_widget" class="n r"><rect x="3273" y="1620" width="142" height="40"/><text x="3344" y="1636">octave::octave_dock<tspan x="3344" dy="15">_widget</tspan></text></g>
<g id="QLineEditP" class="n"><rect x="2177" y="1678" width="88" height="25"/><text x="2221" y="1695">QLineEdit *</text></g>
<g id="QStatusBar" class="n"><rect x="2171" y="1743" width="98" height="25"/><text x="2220" y="1760">QStatusBar *</text></g>
<g id="find_files_dialog" class="n r"><rect x="2581" y="1711" width="120" height="40"/><text x="2641" y="1727">octave::find_files<tspan x="2641" dy="15">_dialog</tspan></text></g>
<g id="interpreter_qobject" class="n"><rect x="2578" y="1845" width="127" height="40"/><text x="2641" y="1861">octave::interpreter<tspan x="2641" dy="15">_qobject</tspan></text></g>
<g id="external_editor_interface" class="n"><rect x="2566" y="2036" width="153" height="40"/><text x="2642" y="2052">octave::external_editor<tspan x="2642" dy="15">_interface</tspan></text></g>
<g id="QMainWindow" class="n"><rect x="2587" y="2099" width="108" height="26"/><text x="2641" y="2117">QMainWindow</text></g>
<g id="QHash_QMenu" class="n"><rect x="2535" y="2150" width="211" height="25"/><text x="2640" y="2167">QHash&lt; QMenu *, QStringList &gt;</text></g>
<g id="led_indicator" class="n r"><rect x="2570" y="2251" width="142" height="26"/><text x="2641" y="2269">octave::led_indicator</text></g>
<g id="QWidgetP" class="n"><rect x="2599" y="2303" width="84" height="25"/><text x="2641" y="2320">QWidget *</text></g>
<g id="QToolBar" class="n"><rect x="2598" y="2353" width="86" height="26"/><text x="2641" y="2371">QToolBar *</text></g>
<g id="QWidget" class="n"><rect x="2184" y="2498" width="74" height="26"/><text x="2221" y="2516">QWidget</text></g>
<g id="QHash_QString_TWI" class="n"><rect x="2119" y="2686" width="203" height="40"/><text x="2220" y="2702">QHash&lt; QString, QTreeWidget<tspan x="2220" dy="15">Item * &gt;</tspan></text></g>
<g id="QHash_int_TWI" class="n"><rect x="2110" y="2753" width="221" height="25"/><text x="2220" y="2770">QHash&lt; int, QTreeWidgetItem * &gt;</text></g>
<g id="QHash_TWI_int" class="n"><rect x="2132" y="2803" width="177" height="40"/><text x="2220" y="2819">QHash&lt; QTreeWidgetItem<tspan x="2220" dy="15">*, int &gt;</tspan></text></g>
<g id="QDialog" class="n"><rect x="2181" y="2871" width="79" height="25"/><text x="2220" y="2888">QDialog *</text></g>
<g id="QLabel" class="n"><rect x="2186" y="2922" width="70" height="25"/><text x="2221" y="2939">QLabel *</text></g>
<g id="QList_shortcut_t" class="n"><rect x="2140" y="2972" width="160" height="40"/><text x="2220" y="2988">QList&lt; octave::shortcut<tspan x="2220" dy="15">_manager::shortcut_t &gt;</tspan></text></g>
<g id="QHash_QString_int" class="n"><rect x="2144" y="3040" width="153" height="26"/><text x="2220" y="3058">QHash&lt; QString, int &gt;</text></g>
<g id="shortcut_manager" class="n"><rect x="2554" y="2840" width="174" height="25"/><text x="2641" y="2857">octave::shortcut_manager</text></g>
<g id="shared_ptr" class="n"><rect x="3261" y="2854" width="164" height="38"/><text x="3343" y="2869">std::shared_ptr&lt; octave<tspan x="3343" dy="15">::qt_interpreter_events &gt;</tspan></text></g>
<g id="QUIWidgetCreator" class="n"><rect x="2553" y="3343" width="175" height="26"/><text x="2640" y="3361">octave::QUIWidgetCreator</text></g>
<g id="QMutex" class="n"><rect x="2187" y="3444" width="67" height="25"/><text x="2220" y="3461">QMutex</text></g>
<g id="QWaitCondition" class="n"><rect x="2164" y="3495" width="114" height="25"/><text x="2221" y="3512">QWaitCondition</text></g>
<g id="qt_interpreter_events" class="n"><rect x="2964" y="3441" width="146" height="39"/><text x="3037" y="3457">octave::qt_interpreter<tspan x="3037" dy="15">_events</tspan></text></g>
<g id="QVariant" class="n"><rect x="2608" y="3530" width="72" height="25"/><text x="2644" y="3547">QVariant</text></g>
<g id="interpreter_events" class="n"><rect x="2578" y="3642" width="132" height="26"/><text x="2644" y="3660">interpreter_events</text></g>
<g id="ObjectProxy" class="n g"><rect x="2967" y="3713" width="137" height="26"/><text x="3035" y="3731">octave::ObjectProxy</text></g>
<g id="Object" class="n"><rect x="2591" y="3742" width="106" height="28"/><text x="2644" y="3761">octave::Object</text></g>
<g id="graphics_object" class="n"><rect x="2164" y="3703" width="112" height="26"/><text x="2220" y="3721">graphics_object</text></g>
<g id="QObjectP" class="n"><rect x="2179" y="3805" width="81" height="26"/><text x="2219" y="3823">QObject *</text></g>
<g id="interpreter_ref" class="n"><rect x="2172" y="3856" width="94" height="26"/><text x="2219" y="3874">interpreter &amp;</text></g>
</svg>
